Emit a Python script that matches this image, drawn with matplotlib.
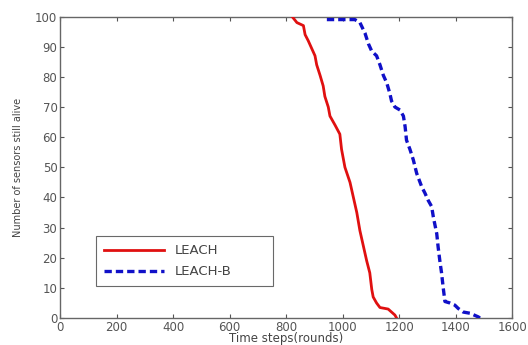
import matplotlib
matplotlib.use("Agg")
import matplotlib.pyplot as plt

leach_x = [821, 838, 861, 867, 878, 890, 902, 908, 920, 931, 937, 949, 955, 973, 990,
           996, 1008, 1026, 1038, 1050, 1061, 1073, 1085, 1096, 1103, 1108, 1120, 1132,
           1161, 1173, 1185, 1191]
leach_y = [100, 98, 97, 94, 92, 89.5, 87, 84, 80.5, 77, 73.5, 70, 67, 64, 61,
           56, 50, 45, 40, 35, 29, 24, 19, 15, 9.5, 7, 5, 3.5,
           3, 2, 1, 0]

leachb_x = [944, 1043, 1061, 1079, 1091, 1103, 1120, 1132, 1144, 1156, 1167, 1173, 1185,
            1203, 1215, 1221, 1226, 1238, 1250, 1262, 1280, 1291, 1303, 1315, 1321,
            1333, 1338, 1344, 1350, 1356, 1362, 1380, 1397, 1409, 1427, 1451, 1480, 1486]
leachb_y = [99, 99, 98, 94.5, 91, 88.5, 87, 84, 80.5, 78, 74.5, 72, 70,
            69, 67, 63.5, 59, 56, 52.5, 48, 43.5, 41.5, 39, 37, 33.5,
            28, 23.5, 19, 15, 10, 5.5, 5, 4.3, 3.2, 2, 1.6, 0.4, 0]

xticks = [0, 200, 400, 600, 800, 1000, 1200, 1400, 1600]
yticks = [0, 10, 20, 30, 40, 50, 60, 70, 80, 90, 100]

plt.rcParams['font.family'] = ['DejaVu Sans']

fig = plt.figure(figsize=(5.28, 3.45), dpi=100)
ax = fig.add_axes([0.114, 0.078, 0.856, 0.874])

ax.plot(leach_x, leach_y, color='#e01010', lw=2.0, label='LEACH', zorder=3)
ax.plot(leachb_x, leachb_y, color='#1010c8', lw=2.4, ls=(0, (2.2, 1.2)), label='LEACH-B', zorder=3)

ax.set_xlim(0, 1600)
ax.set_ylim(0, 100)
ax.set_xticks(xticks)
ax.set_yticks(yticks)
ax.tick_params(direction='in', length=3, width=0.8, colors='#555555', labelcolor='#555555',
               labelsize=8.5, top=True, right=True, pad=2)
for s in ax.spines.values():
    s.set_color('#666666')
    s.set_linewidth(1.0)

ax.set_xlabel('Time steps(rounds)', fontsize=8.5, color='#444444', labelpad=-1)
ax.set_ylabel('Number of sensors still alive', fontsize=7, color='#444444', labelpad=9)

leg = ax.legend(loc='lower left', bbox_to_anchor=(0.0786, 0.106, 0.392, 0.173), mode='expand',
                fontsize=9.5, frameon=True, fancybox=False, borderaxespad=0,
                handlelength=4.6, handletextpad=0.8, labelspacing=0.6, borderpad=0.6)
leg.get_frame().set_edgecolor('#444444')
leg.get_frame().set_linewidth(0.8)
for t in leg.get_texts():
    t.set_color('#444444')

fig.savefig('out.png', dpi=100)
